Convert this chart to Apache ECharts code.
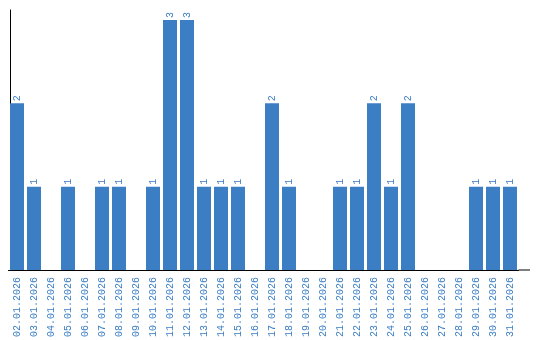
<!DOCTYPE html>
<html>
<head>
<meta charset="utf-8">
<script src="https://cdn.jsdelivr.net/npm/echarts@6/dist/echarts.min.js"></script>
<style>html,body{margin:0;padding:0;background:#fff}#c{width:540px;height:340px}</style>
</head>
<body>
<div id="c"></div>
<script>
const categories = ['02.01.2026','03.01.2026','04.01.2026','05.01.2026','06.01.2026','07.01.2026','08.01.2026','09.01.2026','10.01.2026','11.01.2026','12.01.2026','13.01.2026','14.01.2026','15.01.2026','16.01.2026','17.01.2026','18.01.2026','19.01.2026','20.01.2026','21.01.2026','22.01.2026','23.01.2026','24.01.2026','25.01.2026','26.01.2026','27.01.2026','28.01.2026','29.01.2026','30.01.2026','31.01.2026'];
const values = [2,1,0,1,0,1,1,0,1,3,3,1,1,1,0,2,1,0,0,1,1,2,1,2,0,0,0,1,1,1];

const chart = echarts.init(document.getElementById('c'));
const blue = '#3b7ec4';
chart.setOption({
  animation: false,
  grid: {left: 8.5, top: 10, width: 510, bottom: 70, containLabel: false, outerBoundsMode: 'none'},
  xAxis: {
    type: 'category',
    data: categories,
    axisLine: {show: true, lineStyle: {color: '#000', width: 1}},
    axisTick: {show: false},
    axisLabel: {rotate: 90, interval: 0, color: blue, fontFamily: 'Liberation Mono', fontSize: 10, margin: 7}
  },
  yAxis: {
    type: 'value',
    min: 0,
    max: 3.12,
    offset: -1.5,
    axisLine: {show: true, lineStyle: {color: '#000', width: 1}},
    axisTick: {show: false},
    axisLabel: {show: false},
    splitLine: {show: false}
  },
  series: [{
    type: 'bar',
    data: values,
    barWidth: 14,
    itemStyle: {color: blue},
    label: {
      show: true,
      position: 'top',
      rotate: 90,
      distance: 2,
      align: 'left',
      verticalAlign: 'middle',
      color: blue,
      fontFamily: 'Liberation Mono',
      fontSize: 10,
      formatter: p => p.value > 0 ? String(p.value) : ''
    }
  }],
  graphic: [{
    type: 'line',
    shape: {x1: 518.5, y1: 270, x2: 530, y2: 270},
    style: {stroke: '#000', lineWidth: 1}
  }]
});
</script>
</body>
</html>
